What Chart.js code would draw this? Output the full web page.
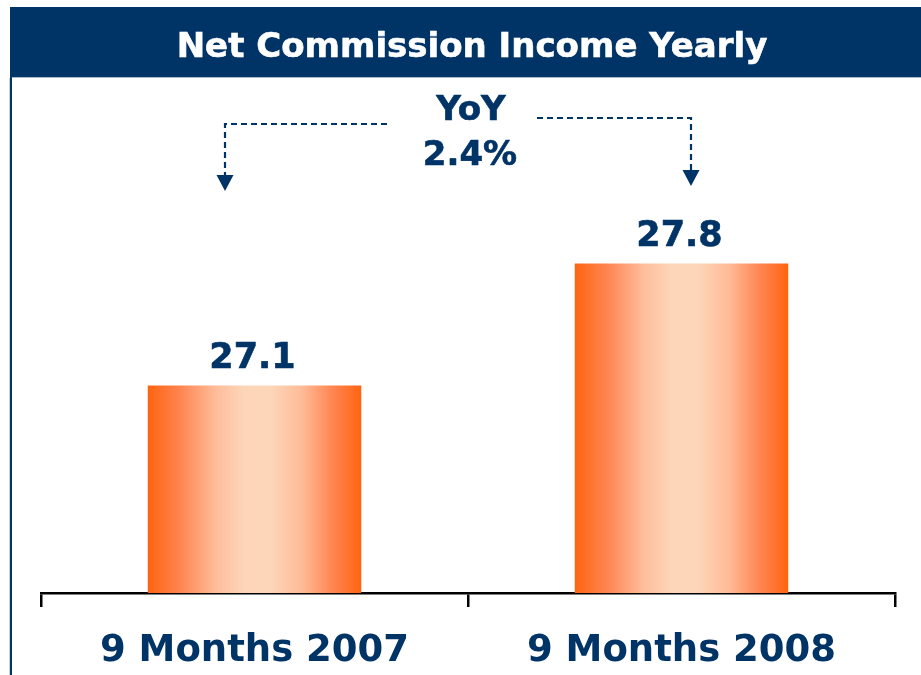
<!DOCTYPE html>
<html>
<head>
<meta charset="utf-8">
<script src="https://cdn.jsdelivr.net/npm/chart.js@4.4.1/dist/chart.umd.min.js"></script>
<style>
  html, body { margin: 0; padding: 0; background: #fff; }
  #wrap { width: 921px; height: 675px; }
</style>
</head>
<body>
<div id="wrap"><canvas id="nciChart" width="921" height="675"></canvas></div>
<script>
// data
const categories = ['9 Months 2007', '9 Months 2008'];
const values = [27.1, 27.8];
const titleText = 'Net Commission Income Yearly';
const yoyLines = ['YoY', '2.4%'];

const NAVY = '#003366';
const FONT = "'DejaVu Sans', Verdana, sans-serif";

// orange -> peach -> orange, across each bar
function barGradient(ctx) {
    const chart = ctx.chart;
    const xs = chart.scales.x;
    if (!chart.chartArea || !xs) return '#FF6A1A';
    const cx = xs.getPixelForValue(ctx.dataIndex);
    const half = xs.width / categories.length * 0.25;
    const g = chart.ctx.createLinearGradient(cx - half, 0, cx + half, 0);
    g.addColorStop(0, '#FF6410');
    g.addColorStop(0.15, '#FF8450');
    g.addColorStop(0.32, '#FEBD9A');
    g.addColorStop(0.45, '#FDD5B9');
    g.addColorStop(0.58, '#FDD5B9');
    g.addColorStop(0.72, '#FEBC98');
    g.addColorStop(0.87, '#FF8450');
    g.addColorStop(1, '#FF6410');
    return g;
}

// title bar, frame, YoY note and dashed arrows
const decorPlugin = {
    id: 'decor',
    beforeDraw(chart) {
        const c = chart.ctx;
        c.save();
        c.fillStyle = NAVY;
        c.fillRect(10, 7, 911, 71);
        c.fillStyle = '#a9bccf';
        c.fillRect(12, 77, 909, 1);
        c.fillStyle = '#c8d2dc';
        c.fillRect(9, 78, 1, 597);
        c.fillStyle = NAVY;
        c.fillRect(10, 78, 2, 597);

        c.fillStyle = '#ffffff';
        c.strokeStyle = '#ffffff';
        c.lineWidth = 0.6;
        c.font = 'bold 34px ' + FONT;
        c.textAlign = 'center';
        c.textBaseline = 'alphabetic';
        c.fillText(titleText, 472, 57);
        c.strokeText(titleText, 472, 57);

        c.fillStyle = NAVY;
        c.strokeStyle = NAVY;
        c.fillText(yoyLines[0], 471, 120);
        c.strokeText(yoyLines[0], 471, 120);
        c.fillText(yoyLines[1], 470, 165);
        c.strokeText(yoyLines[1], 470, 165);

        c.lineWidth = 2.2;
        c.setLineDash([6, 4]);
        c.beginPath();
        c.moveTo(387, 124); c.lineTo(225, 124); c.lineTo(225, 175);
        c.moveTo(537, 118); c.lineTo(691, 118); c.lineTo(691, 170);
        c.stroke();
        c.setLineDash([]);
        c.beginPath();
        c.moveTo(216.5, 175); c.lineTo(233.5, 175); c.lineTo(225, 191); c.closePath();
        c.moveTo(682.5, 170); c.lineTo(699.5, 170); c.lineTo(691, 186); c.closePath();
        c.fill();
        c.restore();
    },
    afterDatasetsDraw(chart) {
        const c = chart.ctx;
        const meta = chart.getDatasetMeta(0);
        c.save();
        c.fillStyle = NAVY;
        c.strokeStyle = NAVY;
        c.lineWidth = 0.6;
        c.font = 'bold 35px ' + FONT;
        c.textAlign = 'center';
        c.textBaseline = 'alphabetic';
        meta.data.forEach((bar, i) => {
            const t = values[i].toFixed(1);
            c.fillText(t, bar.x - 2, bar.y - 18);
            c.strokeText(t, bar.x - 2, bar.y - 18);
        });
        c.restore();
    }
};

new Chart(document.getElementById('nciChart'), {
    type: 'bar',
    data: {
        labels: categories,
        datasets: [{
            data: values,
            backgroundColor: barGradient,
            borderWidth: 0,
            categoryPercentage: 1,
            barPercentage: 0.5
        }]
    },
    options: {
        responsive: false,
        animation: false,
        layout: { padding: { top: 90, left: 41, right: 26, bottom: 0 } },
        plugins: { legend: { display: false }, tooltip: { enabled: false } },
        scales: {
            y: { display: false, min: 25.91, max: 28.796 },
            x: {
                afterFit: (s) => { s.height = 82; },
                border: { display: true, color: '#000', width: 2.5 },
                grid: { drawOnChartArea: false, drawTicks: true, tickLength: 14, color: '#000', lineWidth: 2.5 },
                ticks: { color: NAVY, padding: 22, font: { family: FONT, size: 37, weight: 'bold' } }
            }
        }
    },
    plugins: [decorPlugin]
});
</script>
</body>
</html>
